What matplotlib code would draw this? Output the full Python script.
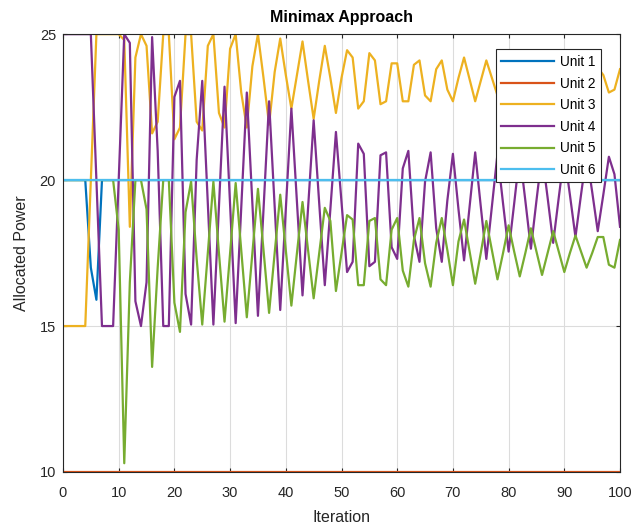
import numpy as np
import matplotlib.pyplot as plt

plt.rcParams['font.family'] = ['Liberation Sans', 'DejaVu Sans']

iteration = np.arange(0, 101)

unit1 = [20, 20, 20, 20, 20, 17.0, 15.9] + [20] * 94
unit2 = [10] * 101
unit6 = [20] * 101

unit3 = [15, 15, 15, 15, 15, 20, 25, 25, 25, 25,
         25, 24.8, 18.4, 24.2, 25, 24.6, 21.6, 22.0, 25, 25,
         21.4, 21.8, 25, 25, 22.0, 21.7, 24.6, 25, 22.3, 21.8,
         24.5, 25, 23.0, 21.8, 23.9, 25, 23.5, 21.9, 23.7, 24.85,
         23.6, 22.45, 23.6, 24.75, 23.4, 22.1, 23.4, 24.6, 23.5, 22.3,
         23.5, 24.45, 24.2, 22.45, 22.7, 24.35, 24.1, 22.6, 22.7, 24.0,
         24.0, 22.7, 22.7, 23.95, 24.1, 22.9, 22.7, 23.8, 24.1, 23.1,
         22.7, 23.5, 24.2, 23.45, 22.7, 23.4, 24.1, 23.5, 22.9, 23.45,
         24.0, 23.45, 22.9, 23.45, 24.0, 23.5, 23.0, 23.45, 23.9, 23.45,
         23.0, 23.45, 23.9, 23.45, 23.0, 23.4, 23.85, 23.6, 23.0, 23.1,
         23.8]

unit4 = [25, 25, 25, 25, 25, 25, 20, 15, 15, 15,
         20, 25, 24.7, 15.85, 15, 16.5, 24.9, 21.0, 15, 15,
         22.85, 23.4, 16.1, 15.05, 20.7, 23.4, 19.2, 15.05, 19.1, 23.2,
         19.15, 15.1, 19.05, 23.0, 19.2, 15.35, 19.0, 22.7, 19.1, 15.55,
         19.0, 22.45, 19.25, 16.05, 19.05, 22.05, 19.2, 16.4, 19.0, 21.65,
         19.25, 16.85, 17.2, 21.25, 20.9, 17.05, 17.2, 20.85, 20.95, 17.7,
         17.3, 20.4, 21.0, 18.1, 17.2, 19.95, 20.95, 18.35, 17.2, 19.3,
         20.9, 19.0, 17.25, 19.1, 20.95, 19.1, 17.3, 19.1, 20.9, 19.2,
         17.55, 19.2, 20.9, 19.3, 17.65, 19.3, 20.9, 19.4, 17.85, 19.4,
         20.9, 19.5, 18.05, 19.5, 20.9, 19.6, 18.25, 19.5, 20.8, 20.2,
         18.4]

unit5 = [20, 20, 20, 20, 20, 20, 20, 20, 20, 20,
         18.3, 10.3, 16.5, 20, 20, 19.0, 13.6, 17.0, 20, 20,
         15.8, 14.8, 18.9, 19.95, 17.3, 15.05, 17.5, 19.95, 17.5, 15.15,
         17.5, 19.9, 17.6, 15.3, 17.5, 19.7, 17.6, 15.45, 17.5, 19.5,
         17.6, 15.7, 17.5, 19.25, 17.6, 15.95, 17.5, 19.05, 18.6, 16.2,
         17.5, 18.8, 18.65, 16.4, 16.4, 18.6, 18.7, 16.6, 16.4, 18.3,
         18.7, 16.9, 16.35, 17.95, 18.7, 17.15, 16.35, 17.85, 18.7, 17.6,
         16.4, 17.9, 18.65, 17.55, 16.45, 17.5, 18.6, 17.6, 16.6, 17.5,
         18.45, 17.55, 16.7, 17.5, 18.35, 17.55, 16.75, 17.5, 18.25, 17.55,
         16.85, 17.5, 18.1, 17.55, 17.0, 17.5, 18.05, 18.05, 17.1, 17.0,
         17.95]

labels = ['Unit 1', 'Unit 2', 'Unit 3', 'Unit 4', 'Unit 5', 'Unit 6']
colors = ['#0072BD', '#D95319', '#EDB120', '#7E2F8E', '#77AC30', '#4DBEEE']

fig = plt.figure(figsize=(6.33, 5.32), dpi=100)
ax = fig.add_axes([0.0995, 0.1128, 0.88, 0.823])

for y, lab, c in zip([unit1, unit2, unit3, unit4, unit5, unit6], labels, colors):
    ax.plot(iteration, y, color=c, linewidth=1.6, label=lab)

ax.set_xlim(0, 100)
ax.set_ylim(10, 25)
ax.set_xticks(np.arange(0, 101, 10))
ax.set_yticks([10, 15, 20, 25])
ax.grid(True, color='#dcdcdc', linewidth=0.8)
ax.set_axisbelow(True)

for s in ax.spines.values():
    s.set_color('#262626')
    s.set_linewidth(0.8)
ax.tick_params(direction='in', top=True, right=True, length=3,
               colors='#262626', labelsize=10.5)
ax.tick_params(axis='x', pad=10)
ax.tick_params(axis='y', pad=5)

ax.set_title('Minimax Approach', fontsize=11.5, fontweight='bold', pad=9)
ax.set_xlabel('Iteration', fontsize=11.5, color='#262626', labelpad=7)
ax.set_ylabel('Allocated Power', fontsize=11.5, color='#262626', labelpad=8)

leg = ax.legend(loc='upper right', bbox_to_anchor=(0.965, 0.965), fontsize=9.8,
                handlelength=3.9, labelspacing=0.56, borderpad=0.4,
                handletextpad=0.4, fancybox=False, framealpha=1,
                edgecolor='#262626', borderaxespad=0)
leg.get_frame().set_linewidth(0.8)

fig.savefig('out.png', dpi=100)
